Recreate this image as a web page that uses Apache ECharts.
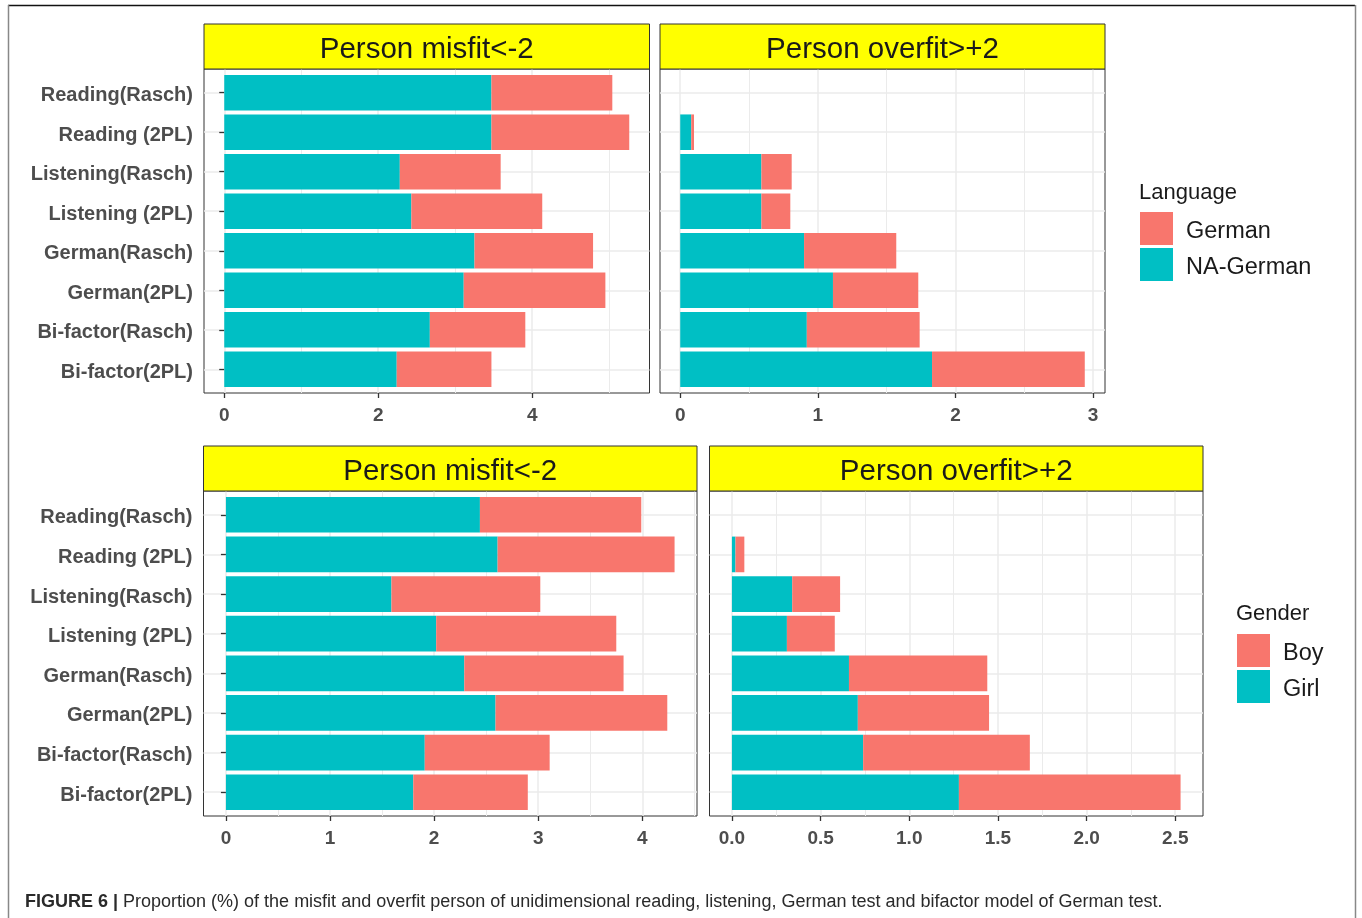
<!DOCTYPE html>
<html>
<head>
<meta charset="utf-8">
<script src="https://cdn.jsdelivr.net/npm/echarts@6/dist/echarts.min.js"></script>
<style>
  html, body { margin: 0; padding: 0; background: #ffffff; }
  #chart { width: 1362px; height: 918px; }
</style>
</head>
<body>
<div id="chart"></div>
<script>
// ---- data (proportion of persons, %) ----
const categories = ['Reading(Rasch)', 'Reading (2PL)', 'Listening(Rasch)', 'Listening (2PL)',
                    'German(Rasch)', 'German(2PL)', 'Bi-factor(Rasch)', 'Bi-factor(2PL)'];

// By language: person misfit < -2
const misfitNAGerman = [3.47, 3.47, 2.28, 2.43, 3.25, 3.11, 2.67, 2.24];
const misfitGerman   = [1.57, 1.79, 1.31, 1.70, 1.54, 1.84, 1.24, 1.23];
// By language: person overfit > +2
const overfitNAGerman = [0, 0.08, 0.59, 0.59, 0.90, 1.11, 0.92, 1.83];
const overfitGerman   = [0, 0.02, 0.22, 0.21, 0.67, 0.62, 0.82, 1.11];
// By gender: person misfit < -2
const misfitGirl = [2.44, 2.61, 1.59, 2.02, 2.29, 2.59, 1.91, 1.80];
const misfitBoy  = [1.55, 1.70, 1.43, 1.73, 1.53, 1.65, 1.20, 1.10];
// By gender: person overfit > +2
const overfitGirl = [0, 0.02, 0.34, 0.31, 0.66, 0.71, 0.74, 1.28];
const overfitBoy  = [0, 0.05, 0.27, 0.27, 0.78, 0.74, 0.94, 1.25];

// Tick labels and minor grid positions per facet
const ticksMisfitLang    = [0, 2, 4];
const minorMisfitLang    = [1, 3, 5];
const ticksOverfitLang   = [0, 1, 2, 3];
const minorOverfitLang   = [0.5, 1.5, 2.5];
const ticksMisfitGender  = [0, 1, 2, 3, 4];
const minorMisfitGender  = [0.5, 1.5, 2.5, 3.5, 4.5];
const ticksOverfitGender = [0, 0.5, 1, 1.5, 2, 2.5];
const minorOverfitGender = [0.25, 0.75, 1.25, 1.75, 2.25];

const stripMisfit  = 'Person misfit<-2';
const stripOverfit = 'Person overfit>+2';
const captionText  = '{b|FIGURE 6 |} Proportion (%) of the misfit and overfit person of unidimensional reading, listening, German test and bifactor model of German test.';

// ---- style ----
const FONT = '"Liberation Sans", Arial, Helvetica, sans-serif';
const TEAL = '#00BFC4';
const SALMON = '#F8766D';
const GRID_COLOR = '#EBEBEB';
const AXIS_TEXT = '#4D4D4D';
const TICK_COLOR = '#333333';

// Facet layout (pixel boxes of each panel and its strip)
const facets = [
  { stripTop: 24,  top: 69,  bottom: 393, left: 204,   right: 649.5, showY: true,
    base: misfitNAGerman, stack: misfitGerman, baseName: 'NA-German', stackName: 'German',
    majors: ticksMisfitLang, minors: minorMisfitLang, strip: stripMisfit, digits: 0 },
  { stripTop: 24,  top: 69,  bottom: 393, left: 660,   right: 1105,  showY: false,
    base: overfitNAGerman, stack: overfitGerman, baseName: 'NA-German', stackName: 'German',
    majors: ticksOverfitLang, minors: minorOverfitLang, strip: stripOverfit, digits: 0 },
  { stripTop: 446, top: 491, bottom: 816, left: 203.5, right: 697,   showY: true,
    base: misfitGirl, stack: misfitBoy, baseName: 'Girl', stackName: 'Boy',
    majors: ticksMisfitGender, minors: minorMisfitGender, strip: stripMisfit, digits: 0 },
  { stripTop: 446, top: 491, bottom: 816, left: 709.5, right: 1203,  showY: false,
    base: overfitGirl, stack: overfitBoy, baseName: 'Girl', stackName: 'Boy',
    majors: ticksOverfitGender, minors: minorOverfitGender, strip: stripOverfit, digits: 1 }
];

const grid = [], xAxis = [], yAxis = [], series = [], graphic = [];
const n = categories.length;
const catPositions = categories.map((c, k) => k + 1);

facets.forEach((f, i) => {
  const w = f.right - f.left;
  const h = f.bottom - f.top;
  const unit = h / (n + 0.2);          // discrete scale padded by 0.6 on each side
  const inset = unit * 0.1;
  const totals = f.base.map((v, k) => v + f.stack[k]);
  const hi = Math.max(...totals);
  const lo = 0;
  const pad = (hi - lo) * 0.05;
  const xmin = lo - pad, xmax = hi + pad;

  // frame grid: panel border, grid lines and ticks
  grid.push({ left: f.left, top: f.top, width: w, height: h, show: true,
              borderColor: '#333333', borderWidth: 1, backgroundColor: 'transparent',
              containLabel: false, outerBoundsMode: 'none' });
  // inner grid: bars
  grid.push({ left: f.left, top: f.top + inset, width: w, height: h - 2 * inset,
              containLabel: false, outerBoundsMode: 'none' });
  const gFrame = 2 * i, gInner = 2 * i + 1;

  xAxis.push({
    type: 'value', gridIndex: gFrame, min: xmin, max: xmax, position: 'bottom',
    axisLine: { show: false },
    axisTick: { show: true, length: 5, customValues: f.majors, lineStyle: { color: TICK_COLOR, width: 1.3 } },
    axisLabel: { show: true, customValues: f.majors, margin: 13,
                 formatter: v => Number(v).toFixed(f.digits),
                 fontFamily: FONT, fontSize: 19, fontWeight: 'bold', color: AXIS_TEXT },
    splitLine: { show: true, lineStyle: { color: GRID_COLOR, width: 1.5 } }
  });
  xAxis.push({
    type: 'value', gridIndex: gFrame, min: xmin, max: xmax, position: 'top',
    axisLine: { show: false },
    axisTick: { show: false, customValues: f.minors },
    axisLabel: { show: false },
    splitLine: { show: true, lineStyle: { color: GRID_COLOR, width: 1 } }
  });
  xAxis.push({ type: 'value', gridIndex: gInner, min: xmin, max: xmax, show: false,
               splitLine: { show: false } });

  yAxis.push({
    type: 'value', gridIndex: gFrame, inverse: true, min: 0.4, max: n + 0.6, position: 'left',
    axisLine: { show: false },
    axisTick: { show: f.showY, length: 5, customValues: catPositions,
                lineStyle: { color: TICK_COLOR, width: 1.3 } },
    axisLabel: { show: false },
    splitLine: { show: true, lineStyle: { color: GRID_COLOR, width: 1.5 } }
  });
  yAxis.push({
    type: 'category', gridIndex: gInner, inverse: true, data: categories,
    axisLine: { show: false },
    axisTick: { show: false },
    axisLabel: { show: f.showY, margin: 11, formatter: v => '{a|' + v + '}',
                 rich: { a: { fontFamily: FONT, fontSize: 20, fontWeight: 'bold',
                              color: AXIS_TEXT, padding: [6, 0, 0, 0] } } },
    splitLine: { show: false }
  });

  const xi = 3 * i + 2, yi = 2 * i + 1;
  series.push({ type: 'bar', name: f.baseName, xAxisIndex: xi, yAxisIndex: yi,
                stack: 'facet' + i, barWidth: '90%', data: f.base,
                itemStyle: { color: TEAL }, silent: true });
  series.push({ type: 'bar', name: f.stackName, xAxisIndex: xi, yAxisIndex: yi,
                stack: 'facet' + i, barWidth: '90%', data: f.stack,
                itemStyle: { color: SALMON }, silent: true });

  // facet strip
  graphic.push({ type: 'rect', z: 10,
                 shape: { x: f.left, y: f.stripTop, width: w, height: f.top - f.stripTop },
                 style: { fill: '#FFFF00', stroke: '#333333', lineWidth: 1 } });
  graphic.push({ type: 'text', z: 11, x: f.left + w / 2, y: (f.stripTop + f.top) / 2 + 3,
                 style: { text: f.strip, textAlign: 'center', textVerticalAlign: 'middle',
                          fontFamily: FONT, fontSize: 29.5, fill: '#1A1A1A' } });
});

// legend titles
graphic.push({ type: 'text', x: 1139, y: 193,
               style: { text: 'Language', textVerticalAlign: 'middle', fontFamily: FONT,
                        fontSize: 22, fill: '#1A1A1A' } });
graphic.push({ type: 'text', x: 1236, y: 614,
               style: { text: 'Gender', textVerticalAlign: 'middle', fontFamily: FONT,
                        fontSize: 22, fill: '#1A1A1A' } });
// caption
graphic.push({ type: 'text', x: 25, y: 902,
               style: { text: captionText, textVerticalAlign: 'middle', fontFamily: FONT,
                        fontSize: 18, fill: '#2A2A2A',
                        rich: { b: { fontWeight: 'bold', fontFamily: FONT, fontSize: 18, fill: '#2A2A2A' } } } });
// figure frame
graphic.push({ type: 'line', shape: { x1: 8, y1: 5.5, x2: 1355, y2: 5.5 },
               style: { stroke: '#111111', lineWidth: 1.5 } });
graphic.push({ type: 'line', shape: { x1: 8.5, y1: 5, x2: 8.5, y2: 930 },
               style: { stroke: '#888888', lineWidth: 1.5 } });
graphic.push({ type: 'line', shape: { x1: 1355.5, y1: 5, x2: 1355.5, y2: 930 },
               style: { stroke: '#888888', lineWidth: 1.5 } });

const legendCommon = {
  orient: 'vertical', icon: 'rect', itemWidth: 33, itemHeight: 33, itemGap: 3,
  selectedMode: false, padding: 0,
  formatter: name => '{a|' + name + '}',
  textStyle: { rich: { a: { fontFamily: FONT, fontSize: 23.5, color: '#1A1A1A', padding: [7, 0, 0, 8] } } }
};

const option = {
  animation: false,
  backgroundColor: '#ffffff',
  grid, xAxis, yAxis, series, graphic,
  legend: [
    Object.assign({ data: ['German', 'NA-German'], left: 1140, top: 212 }, legendCommon),
    Object.assign({ data: ['Boy', 'Girl'], left: 1237, top: 634 }, legendCommon)
  ]
};

const chart = echarts.init(document.getElementById('chart'), null, { renderer: 'canvas' });
chart.setOption(option);
</script>
</body>
</html>
